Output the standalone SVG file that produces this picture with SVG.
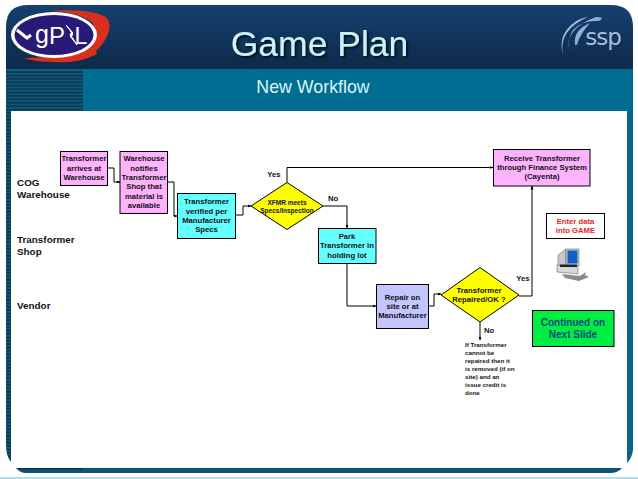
<svg xmlns="http://www.w3.org/2000/svg" width="638" height="479" viewBox="0 0 638 479">
<style>
text{font-family:"Liberation Sans",Arial,sans-serif;font-weight:bold;fill:#111;text-anchor:middle}
.t7{font-size:7.7px}
.t6{font-size:6.5px}
.sm{font-size:6.2px;text-anchor:start}
.lane{font-size:9.9px;text-anchor:start}
.box{stroke:#000;stroke-width:1}
.pink{fill:#ffb3ff}
.cyan{fill:#66ffff}
.yellow{fill:#ffff00}
.c{fill:none;stroke:#000;stroke-width:1;marker-end:url(#a)}
</style>
<defs>
<marker id="a" markerWidth="4" markerHeight="4" refX="3.5" refY="2" orient="auto" markerUnits="userSpaceOnUse"><path d="M0 0.5L4 2L0 3.5z" fill="#000"/></marker>
<linearGradient id="hd" x1="0" y1="0" x2="0" y2="1"><stop offset="0" stop-color="#15406f"/><stop offset="1" stop-color="#0d2a48"/></linearGradient>
<pattern id="st" width="4" height="3.4" patternUnits="userSpaceOnUse"><rect width="4" height="3.4" fill="#0a5878"/><rect width="4" height="1.5" fill="#12304f"/></pattern>
<linearGradient id="sw" x1="0" y1="0" x2="1" y2="1"><stop offset="0" stop-color="#c4d6ee"/><stop offset="1" stop-color="#4f76ae"/></linearGradient>
<filter id="sh" x="-5%" y="-5%" width="110%" height="125%"><feDropShadow dx="1.5" dy="1.5" stdDeviation="0.8" flood-color="#000" flood-opacity="0.9"/></filter>
</defs>
<rect width="638" height="479" fill="#fff"/>
<g id="slide-frame">
<path d="M6 69V27Q6 5 28 5H611Q633 5 633 27V69Z" fill="url(#hd)"/>
<rect x="6" y="69" width="627" height="42" fill="#026d92"/>
<rect x="6" y="70" width="77" height="41" fill="url(#st)"/>
<path d="M6 111H11V462Q6 456 6 445Z" fill="url(#st)"/>
<path d="M627 111H633V450Q632 458 627 463Z" fill="#0a6488"/>
<path d="M16 468H622Q618 473 610 473H26Q20 473 16 468Z" fill="#0b5576"/>
<path d="M16 468H83V469.500H20Z" fill="#12304f"/>
<rect x="0" y="477" width="638" height="2" fill="#b9dbe4"/>
</g>
<g id="logo-gpl">
<path d="M50 11Q90 8 106 17Q112 24 108 34Q104 44 96 51L97 54Q78 64 56 62Q34 62 24 58Q60 58 84 46Q100 34 92 22Q78 12 50 11Z" fill="#d8301c"/>
<ellipse cx="54" cy="35" rx="43" ry="23" fill="#fff"/>
<ellipse cx="54" cy="35" rx="39.500" ry="20" fill="#2a1a78"/>
<path d="M17 30L27 38L31 35" fill="none" stroke="#fff" stroke-width="3"/>
<text x="42" y="43" style="font-size:25px;font-weight:normal;fill:#fff">g</text>
<text x="57" y="44" style="font-size:24px;font-weight:normal;fill:#fff">P</text>
<path d="M66 25L73 33L70 34L77 45L70 36L73 35L67 26Z" fill="#fff" stroke="#fff"/>
<text x="81" y="44" style="font-size:23px;font-weight:normal;fill:#fff">L</text>
</g>
<g id="logo-ssp">
<path d="M563 55Q558 30 588 17Q578 18 570 26Q558 38 563 55Z" fill="url(#sw)"/>
<path d="M568 50Q566 28 596 17Q606 17 599 21Q582 20 573 30Q568 38 568 50Z" fill="url(#sw)"/>
<path d="M575 45Q573 30 590 23Q580 34 577 45Z" fill="url(#sw)"/>
<text x="603" y="45" style="font-size:23px;font-weight:normal;fill:#a7bfd6;font-family:'DejaVu Sans',sans-serif;letter-spacing:-1px">ssp</text>
</g>
<text id="title" x="319.500" y="56" style="font-weight:normal;font-size:35.500px;fill:#c8f4fa" filter="url(#sh)">Game Plan</text>
<text id="subtitle" x="313" y="93" style="font-weight:normal;font-size:17.800px;fill:#d8f6fa">New Workflow</text>
<g id="lanes">
<text class="lane" x="17" y="186">COG</text><text class="lane" x="17" y="198">Warehouse</text>
<text class="lane" x="17" y="243">Transformer</text><text class="lane" x="17" y="255">Shop</text>
<text class="lane" x="17" y="309">Vendor</text>
</g>
<g id="connectors">
<path class="c" d="M108 168H114V182H120"/>
<path class="c" d="M168 182H174V216H177"/>
<path class="c" d="M236 215H243V206H251"/>
<path class="c" d="M287 182V167.500H493"/>
<path class="c" d="M323 206H347V228"/>
<path class="c" d="M347 264V306H376"/>
<path class="c" d="M429 306H434V294H441"/>
<path class="c" d="M519 296H532V186"/>
<path class="c" d="M480 322V340"/>
</g>
<g id="n1"><rect class="box pink" x="60.500" y="151.500" width="47" height="34"/><text class="t7" x="84" y="161">Transformer</text><text class="t7" x="84" y="171">arrives at</text><text class="t7" x="84" y="180">Warehouse</text></g>
<g id="n2"><rect class="box pink" x="120" y="151.500" width="47.500" height="62"/><text class="t7" x="144" y="161">Warehouse</text><text class="t7" x="144" y="171">notifies</text><text class="t7" x="144" y="180">Transformer</text><text class="t7" x="144" y="189">Shop that</text><text class="t7" x="144" y="199">material is</text><text class="t7" x="144" y="208">available</text></g>
<g id="n3"><rect class="box cyan" x="177.500" y="193.500" width="58" height="45"/><text class="t7" x="206.500" y="204">Transformer</text><text class="t7" x="206.500" y="214">verified per</text><text class="t7" x="206.500" y="223">Manufacturer</text><text class="t7" x="206.500" y="232">Specs</text></g>
<g id="n4"><path class="box yellow" d="M287 182.500L323 206L287 229.500L251 206Z"/><text class="t6" x="287" y="204.500">XFMR meets</text><text class="t6" x="287" y="212.500">Specs/Inspection</text></g>
<g id="n5"><rect class="box cyan" x="318.500" y="228.500" width="57.500" height="35"/><text class="t7" x="347" y="239">Park</text><text class="t7" x="347" y="248">Transformer in</text><text class="t7" x="347" y="258">holding lot</text></g>
<g id="n6"><rect class="box" fill="#c4c4ff" x="376.500" y="284.500" width="52" height="44"/><text class="t7" x="402.500" y="300">Repair  on</text><text class="t7" x="402.500" y="309">site or at</text><text class="t7" x="402.500" y="318">Manufacturer</text></g>
<g id="n7"><path class="box yellow" d="M480 267.500L519 295L480 322L441 295Z"/><text class="t7" x="479" y="293">Transformer</text><text class="t7" x="479" y="302">Repaired/OK ?</text></g>
<g id="n8"><rect class="box pink" x="493.500" y="149.500" width="96.500" height="36.500"/><text class="t7" x="542" y="161">Receive Transformer</text><text class="t7" x="542" y="170">through Finance System</text><text class="t7" x="542" y="179">(Cayenta)</text></g>
<g id="n9"><rect class="box" fill="#fff" x="546.500" y="213.500" width="58" height="25"/><text class="t7" x="575.500" y="224" style="fill:#e8232a">Enter data</text><text class="t7" x="575.500" y="233" style="fill:#e8232a">into GAME</text></g>
<g id="n10"><rect class="box" fill="#00ee44" x="532.500" y="310.500" width="81.500" height="36"/><text x="573" y="326" style="font-size:10px;fill:#0a4a80">Continued on</text><text x="573" y="338" style="font-size:10px;fill:#0a4a80">Next Slide</text></g>
<g id="computer">
<path d="M558 255L566 249V268L558 270Z" fill="#c8c8c8" stroke="#555" stroke-width=".5"/>
<rect x="566" y="249" width="13" height="17" fill="#c8c8c8" stroke="#555" stroke-width=".5"/>
<rect x="567.500" y="250.500" width="10" height="13" fill="#1060c8"/>
<path d="M557 265L578 267L578 274L557 272Z" fill="#d8d8d8" stroke="#555" stroke-width=".5"/>
<path d="M560 264.500H577V267H560Z" fill="#222"/>
<path d="M562 274L580 276L586 272L585 275L589 277L579 281L565 278Z" fill="#8a8a8a"/>
</g>
<g id="labels">
<text class="t7" x="274" y="177">Yes</text>
<text class="t7" x="333" y="201">No</text>
<text class="t7" x="523" y="281">Yes</text>
<text class="t7" x="489" y="333">No</text>
<text class="sm" x="465" y="347">If Transformer</text><text class="sm" x="465" y="355">cannot be</text><text class="sm" x="465" y="363">repaired then it</text><text class="sm" x="465" y="371">is removed (if on</text><text class="sm" x="465" y="379">site) and an</text><text class="sm" x="465" y="387">issue credit is</text><text class="sm" x="465" y="395">done</text>
</g>
</svg>
